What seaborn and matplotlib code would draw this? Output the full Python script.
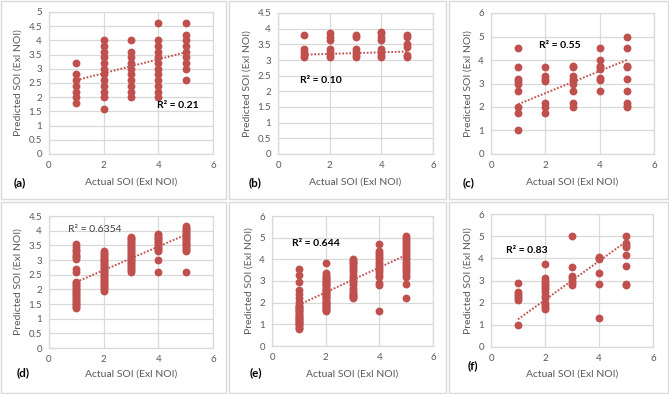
import matplotlib
matplotlib.use("Agg")
import matplotlib.pyplot as plt
from matplotlib.patches import Rectangle
import numpy as np
import pandas as pd
import seaborn as sns

sns.set_theme(style="white")
plt.rcParams['font.family'] = ['Lato', 'DejaVu Sans']

# ---------------- data ----------------
categories = [1, 2, 3, 4, 5]

a1 = [1.8, 2.0, 2.2, 2.4, 2.6, 2.8, 3.2]
a2 = [1.6, 2.0, 2.2, 2.4, 2.6, 2.8, 3.0, 3.2, 3.4, 3.6, 3.8, 4.0]
a3 = [2.0, 2.2, 2.4, 2.6, 2.8, 3.0, 3.2, 3.4, 3.6, 4.0]
a4 = [2.0, 2.2, 2.4, 2.6, 2.8, 3.0, 3.2, 3.4, 3.6, 3.8, 4.0, 4.6]
a5 = [2.6, 3.0, 3.2, 3.4, 3.6, 3.8, 4.0, 4.2, 4.6]
a_trend = [2.6, 3.58]

b1 = [3.1, 3.15, 3.25, 3.35, 3.8]
b2 = [3.1, 3.15, 3.25, 3.35, 3.65, 3.75, 3.85]
b3 = [3.1, 3.15, 3.25, 3.35, 3.75, 3.8]
b4 = [3.1, 3.15, 3.25, 3.35, 3.65, 3.75, 3.85, 3.9]
b5 = [3.1, 3.15, 3.4, 3.5, 3.75, 3.8]
b_trend = [3.17, 3.27]

c1 = [1.0, 1.75, 2.0, 2.7, 3.0, 3.1, 3.2, 3.7, 4.5]
c2 = [1.75, 2.0, 2.15, 3.1, 3.2, 3.3, 3.7]
c3 = [2.0, 2.15, 2.7, 3.0, 3.1, 3.2, 3.3, 3.7, 3.75]
c4 = [2.7, 3.15, 3.25, 3.6, 3.7, 3.75, 4.0, 4.5]
c5 = [2.0, 2.05, 2.15, 2.7, 3.2, 3.7, 3.75, 4.5, 5.0]
c_trend = [2.12, 4.0]

d1 = [1.35, 1.4, 1.45, 1.5, 1.55, 1.6, 1.65, 1.7, 1.75, 1.8, 1.85, 1.9,
      1.95, 2.0, 2.05, 2.1, 2.15, 2.2, 2.25, 2.6, 2.7, 3.05, 3.1, 3.15,
      3.2, 3.3, 3.35, 3.45, 3.55]
d2 = [1.95, 2.0, 2.05, 2.1, 2.15, 2.2, 2.25, 2.3, 2.35, 2.4, 2.45, 2.5,
      2.55, 2.6, 2.65, 2.7, 2.75, 2.8, 2.85, 2.9, 2.95, 3.0, 3.05, 3.1,
      3.15, 3.2, 3.25, 3.3]
d3 = [2.6, 2.65, 2.7, 2.75, 2.8, 2.85, 2.9, 2.95, 3.0, 3.05, 3.1, 3.15,
      3.2, 3.25, 3.3, 3.35, 3.4, 3.45, 3.5, 3.55, 3.6, 3.65, 3.7, 3.75, 3.8]
d4 = [2.6, 3.0, 3.3, 3.35, 3.4, 3.45, 3.5, 3.55, 3.6, 3.65, 3.7, 3.75,
      3.8, 3.85, 3.9]
d5 = [2.6, 3.3, 3.35, 3.4, 3.45, 3.5, 3.55, 3.6, 3.65, 3.7, 3.75, 3.8,
      3.85, 3.9, 3.95, 4.0, 4.05, 4.1, 4.15]
d_trend = [2.25, 3.86]

e1 = [0.8, 0.85, 0.9, 0.95, 1.0, 1.05, 1.1, 1.15, 1.2, 1.25, 1.3, 1.35,
      1.4, 1.45, 1.5, 1.55, 1.6, 1.65, 1.7, 1.75, 1.8, 1.85, 1.9, 2.05,
      2.2, 2.4, 2.6, 2.95, 3.3, 3.55]
e2 = [1.6, 1.65, 1.7, 1.75, 1.8, 1.85, 1.9, 1.95, 2.0, 2.05, 2.1, 2.15,
      2.2, 2.25, 2.3, 2.35, 2.4, 2.45, 2.5, 2.55, 2.6, 2.65, 2.7, 2.75,
      2.8, 2.85, 2.9, 2.95, 3.0, 3.05, 3.1, 3.15, 3.2, 3.3, 3.35, 3.85]
e3 = [2.2, 2.25, 2.3, 2.35, 2.4, 2.5, 2.6, 2.7, 2.8, 2.9, 3.0, 3.1, 3.2,
      3.3, 3.4, 3.5, 3.6, 3.7, 3.8, 3.85, 3.9, 3.95, 4.0]
e4 = [1.6, 2.8, 2.9, 3.2, 3.3, 3.4, 3.5, 3.6, 3.7, 3.8, 3.9, 4.0, 4.1,
      4.2, 4.3, 4.4, 4.7]
e5 = [2.2, 2.85, 3.2, 3.3, 3.4, 3.5, 3.6, 3.7, 3.8, 3.9, 4.0, 4.1, 4.2,
      4.3, 4.4, 4.5, 4.6, 4.7, 4.8, 4.9, 5.0, 5.1]
e_trend = [1.9, 4.2]

f1 = [1.0, 2.1, 2.2, 2.3, 2.4, 2.5, 2.9]
f2 = [1.7, 1.8, 1.9, 2.0, 2.2, 2.3, 2.5, 2.6, 2.7, 2.8, 2.9, 3.0, 3.1, 3.75]
f3 = [2.8, 2.9, 3.0, 3.1, 3.2, 3.6, 5.0]
f4 = [1.3, 2.85, 3.35, 3.95, 4.0, 4.05]
f5 = [2.8, 2.85, 3.65, 4.15, 4.5, 4.6, 4.7, 5.0]
f_trend = [1.25, 4.75]

r2_labels = ["R\u00b2 = 0.21", "R\u00b2 = 0.10", "R\u00b2 = 0.55",
             "R\u00b2 = 0.6354", "R\u00b2 = 0.644", "R\u00b2 = 0.83"]
panel_labels = ["(a)", "(b)", "(c)", "(d)", "(e)", "(f)"]
x_label = "Actual SOI (Exl NOI)"
y_label = "Predicted SOI (Exl NOI)"

# ---------------- layout ----------------
W, H = 669, 394
fig = plt.figure(figsize=(W / 100, H / 100), dpi=100)
fig.patch.set_facecolor("white")

RED = "#C0504D"
GRID = "#D9D9D9"
TICK = "#595959"

def px_rect(l, r, t, b):
    return [l / W, 1 - b / H, (r - l) / W, (b - t) / H]

# panel boxes
boxes = [(1, 226, 1, 199), (229, 446, 1, 199), (449, 668, 1, 199),
         (1, 226, 202, 393), (229, 446, 202, 393), (449, 668, 202, 393)]
for (l, r, t, b) in boxes:
    fig.patches.append(Rectangle((l / W, 1 - b / H), (r - l) / W, (b - t) / H,
                                 transform=fig.transFigure, fill=False,
                                 edgecolor=GRID, linewidth=1.0))

axes_px = [(49, 213, 12, 154), (278, 433, 13, 154), (491, 654, 13, 154),
           (49, 213, 216, 348), (272, 433, 216, 346), (491, 653, 214, 347)]
ylims = [(5, 0.5), (4.5, 0.5), (6, 1), (4.5, 0.5), (6, 1), (6, 1)]
series = [(a1, a2, a3, a4, a5), (b1, b2, b3, b4, b5), (c1, c2, c3, c4, c5),
          (d1, d2, d3, d4, d5), (e1, e2, e3, e4, e5), (f1, f2, f3, f4, f5)]
trends = [a_trend, b_trend, c_trend, d_trend, e_trend, f_trend]
r2_pos = [(3.94, 1.70), (0.84, 2.36), (1.77, 4.63), (0.70, 4.04),
          (0.75, 4.72), (0.55, 4.37)]
xlabel_y = [182, 182, 182, 374, 374, 374]
plabel_px = [(14, 183), (249, 183), (463, 183), (17, 373), (250, 373), (468, 366)]

for i in range(6):
    ax = fig.add_axes(px_rect(*axes_px[i]))
    ymax, ystep = ylims[i]
    xs, ys = [], []
    for cat, vals in zip(categories, series[i]):
        xs += [cat] * len(vals)
        ys += vals
    df = pd.DataFrame({"x": xs, "y": ys})
    sns.scatterplot(data=df, x="x", y="y", ax=ax, color=RED, s=32,
                    linewidth=0, zorder=3, legend=False)
    tdf = pd.DataFrame({"x": [categories[0], categories[-1]], "y": trends[i]})
    sns.lineplot(data=tdf, x="x", y="y", ax=ax, color=RED, linewidth=1.4,
                 linestyle=(0, (0.9, 0.9)), zorder=4)
    ax.set_xlim(0, 6)
    ax.set_ylim(0, ymax)
    ax.set_xticks([0, 2, 4, 6])
    yt = np.arange(0, ymax + 1e-9, ystep)
    ax.set_yticks(yt)
    ax.set_yticklabels([f"{v:g}" for v in yt])
    ax.grid(True, color=GRID, linewidth=0.9)
    ax.set_axisbelow(True)
    for sp in ax.spines.values():
        sp.set_color(GRID)
        sp.set_linewidth(0.9)
    ax.tick_params(axis="both", length=0, labelsize=7, labelcolor=TICK, pad=5)
    ax.set_xlabel("")
    ax.set_ylabel(y_label, fontsize=7.5, color=TICK, labelpad=4)
    weight = "normal" if i == 3 else "bold"
    col = "#404040" if i == 3 else "black"
    ax.text(r2_pos[i][0], r2_pos[i][1], r2_labels[i], fontsize=7.5,
            fontweight=weight, color=col, ha="left", va="center", zorder=5)
    l, r, t, b = axes_px[i]
    fig.text(((l + r) / 2) / W, 1 - xlabel_y[i] / H, x_label, fontsize=7.5,
             color=TICK, ha="center", va="center")
    fig.text(plabel_px[i][0] / W, 1 - plabel_px[i][1] / H, panel_labels[i],
             fontsize=8.5, fontweight="bold", color="black", ha="left",
             va="center")

fig.savefig("out.png", dpi=100, facecolor="white")
